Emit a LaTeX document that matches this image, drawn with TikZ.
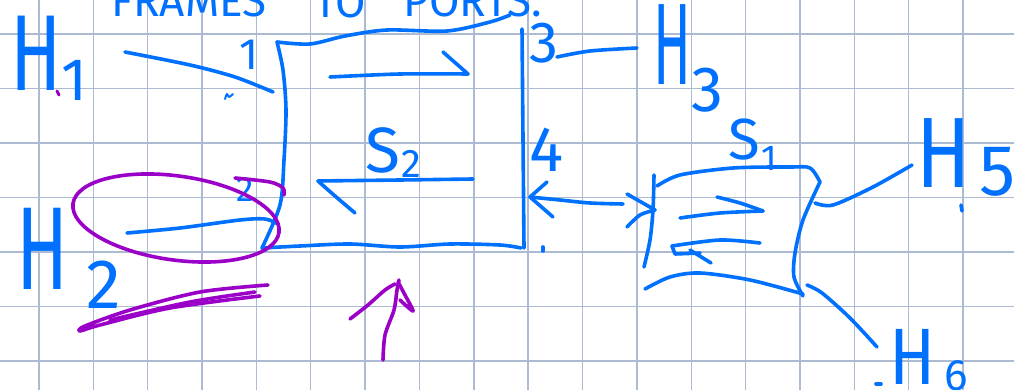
\documentclass[tikz,border=0pt]{standalone}
\usepackage{fontspec}
\newfontfamily\hand{Fira Sans}
\newcommand\handsz[1]{\hand\fontsize{#1}{#1}\selectfont}
\definecolor{pen}{RGB}{0,112,255}
\definecolor{hilite}{RGB}{155,0,200}
\definecolor{gridc}{RGB}{172,186,210}
\begin{document}
\begin{tikzpicture}[x=1pt,y=-1pt,
  ink/.style={draw=pen,line width=3.6pt,line cap=round,line join=round},
  hl/.style={draw=hilite,line width=3.6pt,line cap=round,line join=round},
  lab/.style={text=pen,inner sep=0pt},
  gridline/.style={draw=gridc,line width=1.4pt}]
\useasboundingbox (0,0) rectangle (1014,390);
\clip (0,0) rectangle (1014,390);
\fill[white] (0,0) rectangle (1014,390);
% grid paper
\foreach \i in {0,...,17} \draw[gridline] ({39+54.35*\i},0) -- ({39+54.35*\i},390);
\foreach \j in {0,...,6} \draw[gridline] (0,{34+54.5*\j}) -- (1014,{34+54.5*\j});

% title (cut off at the top, as in the sketch)
\node[lab,anchor=base,font=\handsz{44}] (t1) at (189,17) {FRAMES};
\node[lab,anchor=base,font=\handsz{44}] (t2) at (340,18) {TO};
\node[lab,anchor=base,font=\handsz{44}] (t3) at (473,17) {PORTS.};

% hosts
\node[lab,font=\handsz{108}] (H1) at (36,53) {\scalebox{0.7}[1]{H}};
\node[lab,font=\handsz{60}] (H1s) at (74,80) {1};
\node[lab,font=\handsz{118}] (H2) at (43,249) {\scalebox{0.65}[1]{H}};
\node[lab,font=\handsz{70}] (H2s) at (104,285) {2};
\node[lab,font=\handsz{116}] (H3) at (672,45) {\scalebox{0.48}[1]{H}};
\node[lab,font=\handsz{64}] (H3s) at (707,90) {3};
\node[lab,font=\handsz{100}] (H5) at (944,153) {\scalebox{0.8}[1]{H}};
\node[lab,font=\handsz{72}] (H5s) at (998,172) {5};
\node[lab,font=\handsz{80}] (H6) at (913,357) {\scalebox{0.85}[1]{H}};
\node[lab,font=\handsz{44}] (H6s) at (956,376) {6};

% port labels
\node[lab,font=\handsz{44}] (p1) at (249,55) {1};
\node[lab,font=\handsz{35}] (p2) at (245,190) {2};
\node[lab,font=\handsz{58}] (p3) at (544,43) {3};
\node[lab,font=\handsz{64}] (p4) at (547,150) {4};
\node[lab,font=\handsz{64}] (S2a) at (383,150) {S};
\node[lab,font=\handsz{40}] (S2b) at (411,164) {2};
\node[lab,font=\handsz{58}] (S1a) at (744,140) {S};
\node[lab,font=\handsz{36}] (S1b) at (769,158) {1};

% connector end points
\coordinate (h1e) at (125,52);   \coordinate (sw1a) at (273,92);
\coordinate (h2e) at (127,233);  \coordinate (sw1b) at (278,224);
\coordinate (sw1c) at (557,57);  \coordinate (h3e) at (637,48);
\coordinate (sw1d) at (530,197); \coordinate (sw2a) at (655,210);
\coordinate (sw2b) at (815,203); \coordinate (h5e) at (912,165);
\coordinate (sw2c) at (807,285); \coordinate (h6e) at (877,347);

% switch 1
\draw[ink] plot[smooth] coordinates {(277,42) (310,44) (345,36) (387,30) (447,31) (490,22) (510,15)};
\draw[ink] plot[smooth] coordinates {(277,42) (283,70) (286,110) (284,160) (280,205) (262,248)};
\draw[ink] plot[smooth] coordinates {(262,248) (300,246) (350,244) (400,247) (450,244) (500,245) (521,248)};
\draw[ink] (522,29) -- (524,248);
\draw[ink] plot[smooth] coordinates {(330,77) (400,74) (468,74)};
\draw[ink] (443,52) -- (468,74);
\draw[ink] plot[smooth] coordinates {(473,179) (400,180) (318,181)};
\draw[ink] plot[smooth] coordinates {(318,181) (335,196) (355,213)};

% links
\draw[ink] plot[smooth] coordinates {(h1e) (190,65) (235,77) (sw1a)};
\draw[ink] plot[smooth] coordinates {(h2e) (180,228) (240,220) (265,219) (sw1b)};
\draw[ink] plot[smooth] coordinates {(sw1c) (590,51) (h3e)};
\draw[ink] plot[smooth] coordinates {(sw1d) (560,200) (590,203) (623,204)};
\draw[ink] (547,182) -- (sw1d) -- (553,217);
\draw[ink] (627,194) -- (sw2a);
\draw[ink] plot[smooth] coordinates {(627,227) (640,215) (sw2a)};
\draw[ink] plot[smooth] coordinates {(sw2b) (833,205) (873,187) (h5e)};
\draw[ink] plot[smooth] coordinates {(sw2c) (822,293) (850,318) (h6e)};

% switch 2
\draw[ink] plot[smooth] coordinates {(654,175) (653,210) (650,240) (644,267)};
\draw[ink] plot[smooth] coordinates {(657,186) (680,175) (733,168) (790,167) (810,168) (820,182)};
\draw[ink] plot[smooth] coordinates {(820,182) (803,220) (795,253) (794,277) (803,296)};
\draw[ink] plot[smooth] coordinates {(645,289) (670,277) (700,273) (750,280) (803,294)};
\draw[ink] plot[smooth] coordinates {(680,218) (720,213) (763,211)};
\draw[ink] plot[smooth] coordinates {(717,197) (740,203) (763,211)};
\draw[ink] plot[smooth] coordinates {(760,243) (720,240) (672,246)};
\draw[ink] (672,246) -- (675,254) -- (700,253);
\draw[ink] (690,250) -- (711,263);

% small marks
\draw[ink] (543,247) -- (543,251);
\draw[ink] (961,205) -- (962,211);
\draw[ink] (876,384) -- (881,384);
\draw[ink,line width=2pt] plot[smooth] coordinates {(225,99) (227,94) (229,97) (233,94)};
\draw[hl,line width=3pt] (57,91) -- (59,95);

% purple highlights
\draw[hl,rotate around={-8:(176,218)}] (176,218) ellipse [x radius=104, y radius=42];
\draw[hl] plot[smooth] coordinates {(235,178) (270,182) (283,188) (284,195)};
\draw[hl] plot[smooth] coordinates {(268,285) (200,292) (130,310) (85,326) (80,331) (100,325) (170,308) (260,296)};
\draw[hl] plot[smooth] coordinates {(110,320) (190,302) (255,292)};
\draw[hl] plot[smooth] coordinates {(383,360) (385,335) (394,310) (397,290) (399,280)};
\draw[hl] plot[smooth] coordinates {(350,319) (368,305) (385,290) (395,284)};
\draw[hl] plot[smooth] coordinates {(398,282) (405,295) (413,311) (400,300)};
\end{tikzpicture}
\end{document}
